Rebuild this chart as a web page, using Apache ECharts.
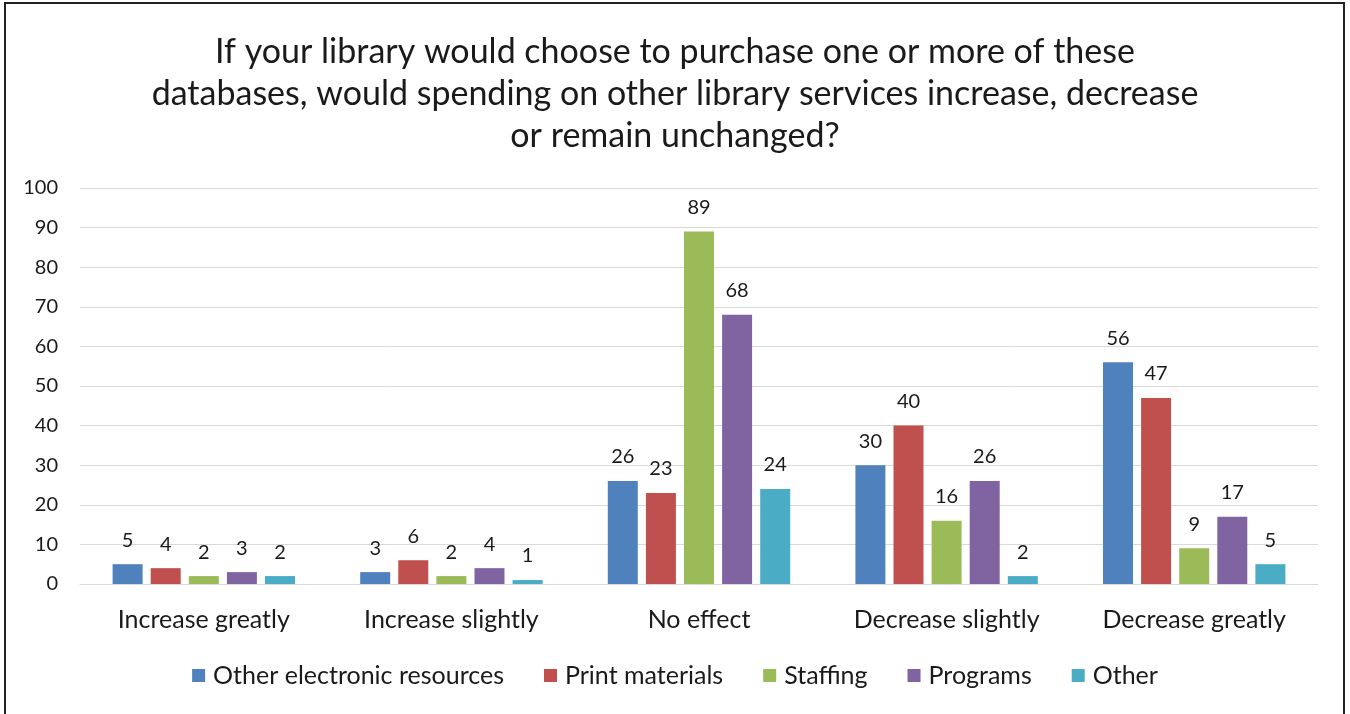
<!DOCTYPE html>
<html><head><meta charset="utf-8">
<script src="https://cdn.jsdelivr.net/npm/echarts@6/dist/echarts.min.js"></script>
<style>
html,body{margin:0;padding:0;background:#fff;overflow:hidden;}
#frame{position:absolute;left:4px;top:2px;width:1341px;height:720px;border:2px solid #222;box-sizing:border-box;}
#main{position:absolute;left:0;top:0;width:1350px;height:714px;}
</style></head><body>
<div id="frame"></div>
<div id="main"></div>
<script>
const categories = ["Increase greatly","Increase slightly","No effect","Decrease slightly","Decrease greatly"];
const seriesNames = ["Other electronic resources","Print materials","Staffing","Programs","Other"];
const otherElectronic = [5,3,26,30,56];
const printMaterials = [4,6,23,40,47];
const staffing = [2,2,89,16,9];
const programs = [3,4,68,26,17];
const other = [2,1,24,2,5];
const yTicks = [0,10,20,30,40,50,60,70,80,90,100];
const colors = ["#4F81BD","#C0504D","#9BBB59","#8064A2","#4BACC6"];
const values = [otherElectronic, printMaterials, staffing, programs, other];
const font = "Lato, 'Open Sans', sans-serif";
const chart = echarts.init(document.getElementById('main'), null, {renderer:'canvas'});
chart.setOption({
  animation:false,
  textStyle:{fontFamily:font},
  title:{
    text:"If your library would choose to purchase one or more of these\ndatabases, would spending on other library services increase, decrease\nor remain unchanged?",
    left:'center', top:26,
    textStyle:{fontFamily:font,fontSize:34,fontWeight:'normal',color:'#1a1a1a',lineHeight:42}
  },
  legend:{
    bottom:21, left:'center', itemWidth:13, itemHeight:13, itemGap:40,
    icon:'rect',
    textStyle:{fontFamily:font,fontSize:25,color:'#1a1a1a',padding:[0,0,0,3]},
    data:seriesNames
  },
  grid:{left:80,right:32,top:188,bottom:130},
  xAxis:{
    type:'category', data:categories,
    axisTick:{show:false},
    axisLine:{lineStyle:{color:'#d9d9d9',width:1}},
    axisLabel:{fontFamily:font,fontSize:25,color:'#1a1a1a',margin:23}
  },
  yAxis:{
    type:'value', min:0, max:100, interval:10,
    axisLabel:{fontFamily:font,fontSize:20,color:'#1a1a1a',margin:22},
    splitLine:{lineStyle:{color:'#d9d9d9',width:1}},
    axisLine:{show:false}, axisTick:{show:false}
  },
  series: seriesNames.map((n,i)=>({
    name:n, type:'bar', data:values[i], barWidth:30, barGap:'27%',
    itemStyle:{color:colors[i]},
    label:{show:true,position:'top',distance:14,fontFamily:font,fontSize:20,color:'#1a1a1a'}
  }))
});
</script>
</body></html>
